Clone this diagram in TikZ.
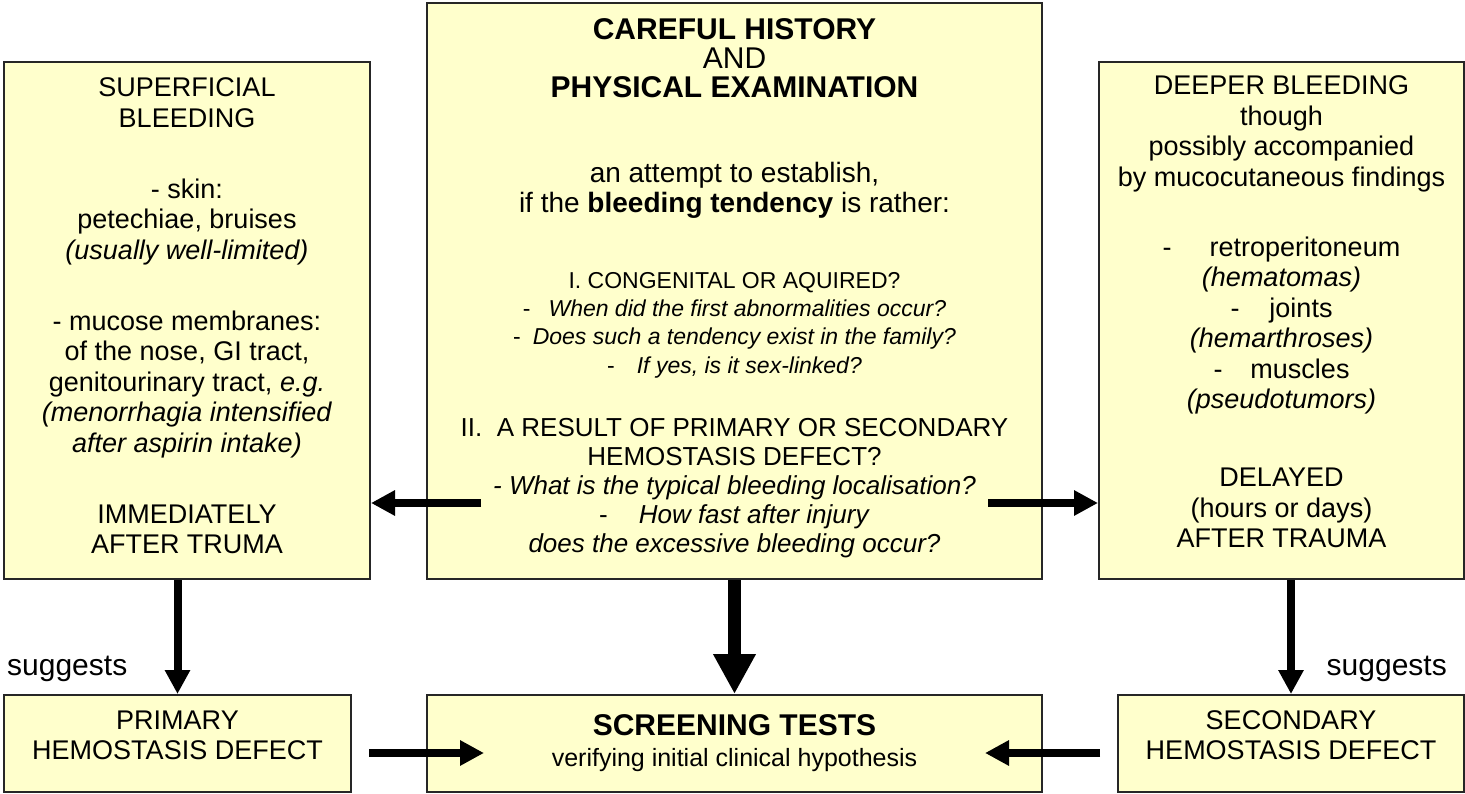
\documentclass[tikz,border=0pt]{standalone}
\usepackage{fontspec}
\setmainfont{Liberation Sans}
\usetikzlibrary{arrows.meta}
\definecolor{boxfill}{RGB}{255,255,204}
\newcommand{\headfont}{\fontsize{30}{29}\selectfont}
\newcommand{\introfont}{\fontsize{28}{29}\selectfont}
\newcommand{\qfont}{\fontsize{23}{29}\selectfont}
\begin{document}
\begin{tikzpicture}[x=1pt,y=-1pt,
  box/.style={draw=black!85, line width=2pt, fill=boxfill, align=center, inner sep=0pt},
  arr/.style={line width=8pt, -{Triangle[length=24pt,width=24pt]}},
  bigarr/.style={line width=13pt, -{Triangle[length=40pt,width=40pt]}},
  sug/.style={font=\fontsize{30}{30}\selectfont, inner sep=0pt}]
\useasboundingbox (0,0) rectangle (1465,794);
% upper row
\node[box, minimum width=366pt, minimum height=517pt, text depth=9pt, font=\fontsize{27}{30.5}\selectfont] (sup) at (187,320.5)
 {SUPERFICIAL\\BLEEDING\\[40.5pt]
  - skin:\\petechiae, bruises\\\textit{(usually well-limited)}\\[40.5pt]
  - mucose membranes:\\of the nose, GI tract,\\genitourinary tract, \textit{e.g.}\\
  \textit{(menorrhagia intensified}\\\textit{after aspirin intake)}\\[40.5pt]
  IMMEDIATELY\\AFTER TRUMA};
\node[box, minimum width=615pt, minimum height=576pt, text depth=11pt, font=\fontsize{26}{29}\selectfont] (hist) at (734.5,291)
 {{\headfont\bfseries CAREFUL HISTORY}\\
  {\headfont AND}\\
  {\headfont\bfseries PHYSICAL EXAMINATION}\\[56pt]
  {\introfont an attempt to establish,}\\[1pt]
  {\introfont if the \textbf{bleeding tendency} is rather:}\\[47pt]
  {\qfont I. CONGENITAL OR AQUIRED?}\\[-1pt]
  {\qfont -\hspace{18pt}\textit{When did the first abnormalities occur?}}\\[-1pt]
  {\qfont -\hspace{12pt}\textit{Does such a tendency exist in the family?}}\\
  {\qfont -\hspace{22pt}\textit{If yes, is it sex-linked?}}\\[34pt]
  II.\ \ A RESULT OF PRIMARY OR SECONDARY\\
  HEMOSTASIS DEFECT?\\
  \textit{- What is the typical bleeding localisation?}\\
  -\hspace{31pt}\textit{How fast after injury}\\
  \textit{does the excessive bleeding occur?}};
\node[box, minimum width=365pt, minimum height=517pt, text depth=17pt, font=\fontsize{27}{30.5}\selectfont] (deep) at (1281.5,320.5)
 {DEEPER BLEEDING\\though\\possibly accompanied\\by mucocutaneous findings\\[39.5pt]
  -\hspace{38pt}retroperitoneum\\\textit{(hematomas)}\\
  -\hspace{30pt}joints\\\textit{(hemarthroses)}\\
  -\hspace{28pt}muscles\\\textit{(pseudotumors)}\\[47.5pt]
  DELAYED\\(hours or days)\\AFTER TRAUMA};
% lower row
\node[box, minimum width=347pt, minimum height=97pt, text depth=16pt, font=\fontsize{27}{30}\selectfont] (prim) at (177.5,743.5)
 {PRIMARY\\HEMOSTASIS DEFECT};
\node[box, minimum width=615pt, minimum height=97pt, font=\fontsize{25}{31}\selectfont] (scr) at (734.5,743.5)
 {{\headfont\bfseries SCREENING TESTS}\\verifying initial clinical hypothesis};
\node[box, minimum width=346pt, minimum height=97pt, text depth=16pt, font=\fontsize{27}{30}\selectfont] (sec) at (1291,743.5)
 {SECONDARY\\HEMOSTASIS DEFECT};
\node[sug, anchor=base west] (sugL) at (7,675) {suggests};
\node[sug, anchor=base east] (sugR) at (1447,675) {suggests};
% arrows
\coordinate (c1) at (481,503);
\coordinate (c2) at (988,503);
\coordinate (a1) at (369,753);
\coordinate (a2) at (484,753);
\coordinate (b1) at (1100,753);
\coordinate (b2) at (985,753);
\draw[arr] (c1) -- (sup.east |- c1);
\draw[arr] (c2) -- (deep.west |- c2);
\draw[arr] (prim.north |- sup.south) -- (prim.north);
\draw[arr] (sec.north |- deep.south) -- (sec.north);
\draw[bigarr] (hist.south) -- (scr.north);
\draw[arr] (a1) -- (a2);
\draw[arr] (b1) -- (b2);
\end{tikzpicture}
\end{document}
